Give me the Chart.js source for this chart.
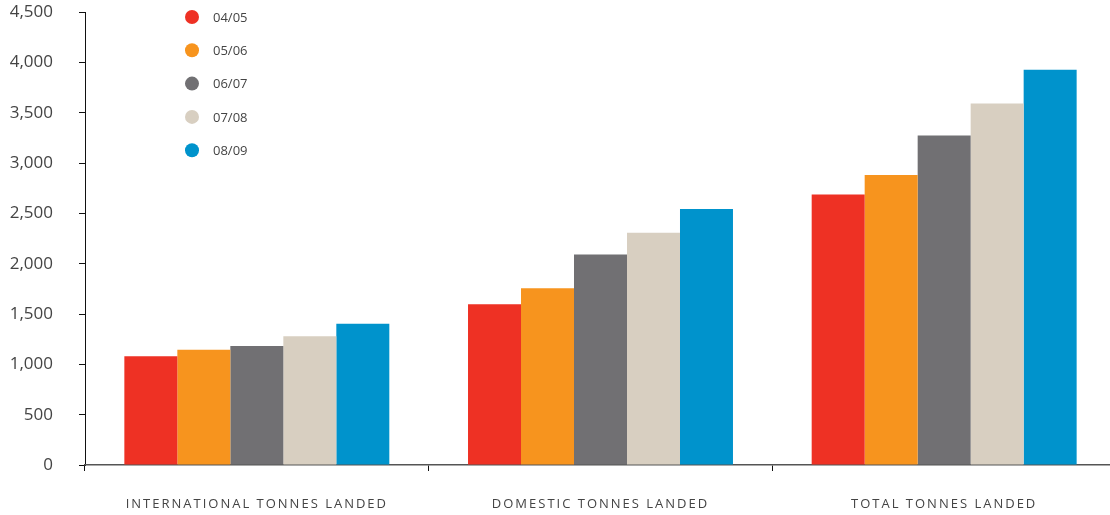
<!DOCTYPE html>
<html>
<head>
<meta charset="utf-8">
<script src="https://cdn.jsdelivr.net/npm/chart.js@4"></script>
<style>
    html, body { margin: 0; padding: 0; background: #fff; overflow: hidden; }
    #wrap { width: 1116px; height: 515px; position: relative; }
</style>
</head>
<body>
<div id="wrap"><canvas id="tonnesChart"></canvas></div>
<script>
const categories = ["INTERNATIONAL TONNES LANDED", "DOMESTIC TONNES LANDED", "TOTAL TONNES LANDED"];
const seasons = ["04/05", "05/06", "06/07", "07/08", "08/09"];
const colors = ["#ee3124", "#f7941e", "#717073", "#d8cfc1", "#0093cc"];

const values0405 = [1081, 1597, 2686];
const values0506 = [1144, 1756, 2880];
const values0607 = [1181, 2090, 3274];
const values0708 = [1280, 2308, 3591];
const values0809 = [1402, 2543, 3926];
const allValues = [values0405, values0506, values0607, values0708, values0809];

const yTicks = [0, 500, 1000, 1500, 2000, 2500, 3000, 3500, 4000, 4500];

// legend drawn in the top-left, as in the original
const dotLegend = {
    id: "dotLegend",
    afterDraw(chart) {
        const ctx = chart.ctx;
        ctx.save();
        ctx.font = "13px 'Open Sans'";
        ctx.textBaseline = "middle";
        chart.data.datasets.forEach((ds, i) => {
            const y = 17 + i * 33.3;
            ctx.beginPath();
            ctx.arc(192, y, 7, 0, Math.PI * 2);
            ctx.fillStyle = ds.backgroundColor;
            ctx.fill();
            ctx.fillStyle = "#444";
            ctx.fillText(ds.label, 213, y + 1);
        });
        ctx.restore();
    }
};

// spaced-out caps on the category labels
const spacedLabels = {
    id: "spacedLabels",
    beforeDraw(chart) {
        const xs = chart.scales.x;
        if (xs._spaced) return;
        const orig = xs.drawLabels;
        xs.drawLabels = function (area) {
            const ctx = this.ctx;
            ctx.save();
            ctx.letterSpacing = "2px";
            orig.call(this, area);
            ctx.restore();
        };
        xs._spaced = true;
    }
};

function initializeChart() {
    const ctx = document.getElementById("tonnesChart");
    new Chart(ctx, {
        type: "bar",
        data: {
            labels: categories,
            datasets: seasons.map((s, i) => ({
                label: s,
                data: allValues[i],
                backgroundColor: colors[i],
                borderWidth: 0,
                barPercentage: 1,
                categoryPercentage: 0.771
            }))
        },
        options: {
            responsive: true,
            maintainAspectRatio: false,
            animation: false,
            layout: { padding: { top: 12, left: 0, right: 0, bottom: 0 } },
            scales: {
                y: {
                    min: 0,
                    max: 4500,
                    afterFit(scale) {
                        scale.width = 85;
                        scale.paddingTop = 0;
                        scale.paddingBottom = 0;
                    },
                    afterBuildTicks(scale) { scale.ticks = yTicks.map(v => ({ value: v })); },
                    border: { display: true, color: "#111", width: 1 },
                    grid: { drawOnChartArea: false, drawTicks: true, tickLength: 6, color: "#111" },
                    ticks: {
                        padding: 26,
                        color: "#444",
                        font: { family: "'Open Sans'", size: 17 },
                        callback: v => v.toLocaleString("en-US")
                    }
                },
                x: {
                    afterFit(scale) {
                        scale.height = 50;
                        scale.paddingLeft = 0;
                        scale.paddingRight = 0;
                    },
                    border: { display: true, color: "#555", width: 1.5 },
                    grid: { drawOnChartArea: false, drawTicks: true, tickLength: 6, color: "#111", offset: true },
                    ticks: {
                        padding: 25,
                        color: "#444",
                        maxRotation: 0,
                        font: { family: "'Open Sans'", size: 13 }
                    }
                }
            },
            plugins: {
                legend: { display: false },
                tooltip: { enabled: false },
                title: { display: false }
            }
        },
        plugins: [dotLegend, spacedLabels]
    });
}

document.addEventListener("DOMContentLoaded", initializeChart);
</script>
</body>
</html>
